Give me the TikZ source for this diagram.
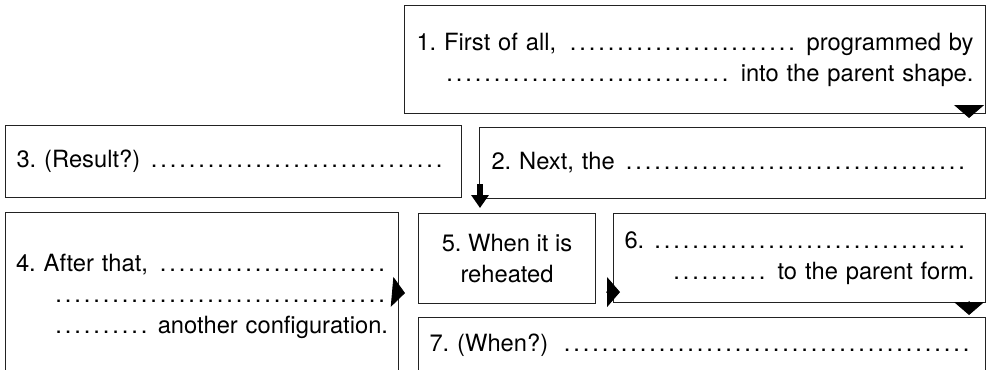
\documentclass[tikz,border=0pt]{standalone}
\usepackage{fontspec}
\setmainfont{TeX Gyre Heros}
\usepackage{xcolor}
\usepackage{tikz}
\usetikzlibrary{arrows.meta, calc}
\definecolor{boxline}{HTML}{222222}
\newcommand\pxu{0.02cm}
\newcommand\dotrow{\leavevmode\leaders\hbox to 0.19cm{\hss.\hss}\hskip 0pt plus 1fill\null}

\begin{document}
\begin{tikzpicture}[
  x=0.02cm, y=-0.02cm,
  font=\fontsize{13.5}{17.6}\selectfont\frenchspacing,
  stagebox/.style={draw=boxline, line width=0.6pt, anchor=north west, inner sep=0pt},
  flow/.style={-{Triangle[length=0.26cm, width=0.6cm]}, line width=0.5pt, black},
  flownarrow/.style={-{Triangle[length=0.26cm, width=0.34cm]}, line width=3.5pt, black}]
\path[use as bounding box, clip] (0,0) rectangle (987,369);

\node[stagebox, minimum width=581*\pxu, minimum height=108*\pxu, text width=557*\pxu, align=left] (b1) at (404,5)
  {1. First of all, \dotrow{} programmed by\\ \hspace*{0.48cm}\dotrow{} into the parent shape.};
\node[stagebox, minimum width=506*\pxu, minimum height=71*\pxu, text width=482*\pxu, align=left] (b2) at (479,127)
  {2. Next, the \dotrow};
\node[stagebox, minimum width=456*\pxu, minimum height=72*\pxu, text width=434*\pxu, align=left] (b3) at (5,125)
  {3. (Result?) \dotrow};
\node[stagebox, minimum width=393*\pxu, minimum height=168*\pxu, text width=372*\pxu, align=left] (b4) at (5,212)
  {4. After that, \dotrow\\ \hspace*{0.72cm}\dotrow\\ \hspace*{0.72cm}\dotrow{} another configuration.};
\node[stagebox, minimum width=177*\pxu, minimum height=90*\pxu, align=center] (b5) at (418,213)
  {5. When it is\\ reheated};
\node[stagebox, minimum width=372*\pxu, minimum height=89*\pxu, text width=350*\pxu, align=left] (b6) at (613,213)
  {6. \dotrow\\ \hspace*{0.82cm}\dotrow{} to the parent form.};
\node[stagebox, minimum width=567*\pxu, minimum height=56*\pxu, text width=545*\pxu, align=left] (b7) at (418,317)
  {7. (When?) \dotrow};

\begin{scope}
\draw[flow] ($(b1.south east)+(-17,-8)$) -- ($(b2.north east)+(-17,-9)$);

\draw[flownarrow] ($(b2.south west)+(1,-15)$) -- ($(b5.north west)+(62,-5)$);

\draw[flow] ($(b4.north east)+(-6,80)$) -- ($(b5.south west)+(-13,-11)$);

\draw[flow] ($(b5.south east)+(10,-12)$) -- ($(b6.south west)+(7,-11)$);

\draw[flow] ($(b6.south east)+(-17,-2)$) -- ($(b7.north east)+(-17,-2)$);
\end{scope}
\end{tikzpicture}
\end{document}
